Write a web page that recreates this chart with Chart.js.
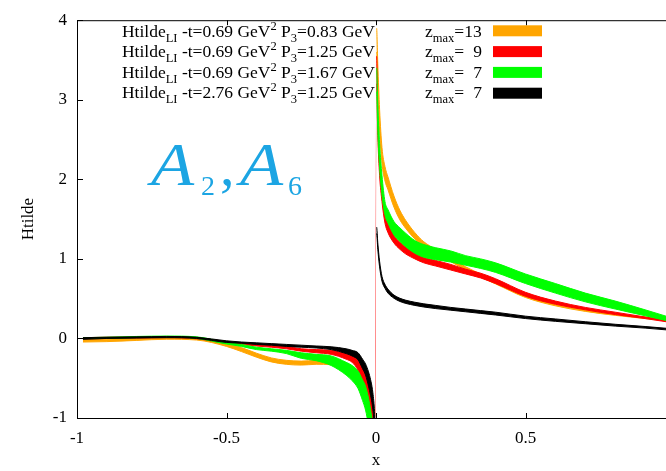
<!DOCTYPE html>
<html>
<head>
<meta charset="utf-8">
<script src="https://cdn.jsdelivr.net/npm/chart.js@4.4.1/dist/chart.umd.min.js"></script>
<style>
  html, body { margin: 0; padding: 0; background: #fff; overflow: hidden; }
  canvas { display: block; }
</style>
</head>
<body>
<canvas id="htildeChart" width="700" height="471"></canvas>
<script>
// x grid shared by every band (denser close to x = 0)
const xs = [-0.98, -0.9, -0.8, -0.7, -0.6, -0.5, -0.45, -0.4, -0.35, -0.3, -0.25, -0.2, -0.15, -0.1, -0.08, -0.06, -0.045, -0.035, -0.025, -0.018, -0.012, -0.006, -0.002,
            0.002, 0.006, 0.012, 0.02, 0.03, 0.04, 0.06, 0.08, 0.1, 0.13, 0.16, 0.2, 0.25, 0.3, 0.35, 0.4, 0.5, 0.6, 0.7, 0.8, 0.9, 0.97];

// lower / upper edge of each band
const orangeLow = [-0.045, -0.04, -0.025, -0.01, -0.02, -0.1, -0.165, -0.235, -0.295, -0.325, -0.335, -0.325, -0.33, -0.38, -0.43, -0.51, -0.62, -0.73, -0.88, -1.02, -1.2, -1.5, -1.9,
                   3.6, 3.15, 2.62, 2.2, 1.98, 1.87, 1.65, 1.49, 1.38, 1.25, 1.145, 1.06, 0.965, 0.86, 0.77, 0.685, 0.515, 0.41, 0.34, 0.29, 0.25, 0.22];
const orangeHigh = [-0.015, -0.01, 0.005, 0.02, 0.01, -0.06, -0.115, -0.185, -0.245, -0.275, -0.285, -0.275, -0.27, -0.32, -0.35, -0.41, -0.5, -0.59, -0.72, -0.84, -1.0, -1.3, -1.7,
                    3.9, 3.45, 2.88, 2.4, 2.16, 2.03, 1.79, 1.61, 1.48, 1.33, 1.215, 1.12, 1.015, 0.9, 0.81, 0.715, 0.545, 0.43, 0.36, 0.31, 0.27, 0.24];

const redLow = [-0.01, 0.0, 0.005, 0.01, -0.005, -0.06, -0.075, -0.095, -0.11, -0.13, -0.16, -0.18, -0.2, -0.26, -0.3, -0.4, -0.55, -0.66, -0.8, -0.95, -1.15, -1.5, -2.0,
                3.2, 2.55, 2.05, 1.72, 1.45, 1.33, 1.2, 1.12, 1.06, 1.0, 0.95, 0.91, 0.86, 0.81, 0.76, 0.69, 0.53, 0.43, 0.36, 0.3, 0.25, 0.21];
const redHigh = [0.01, 0.015, 0.02, 0.025, 0.01, -0.04, -0.055, -0.07, -0.085, -0.1, -0.13, -0.14, -0.15, -0.19, -0.21, -0.27, -0.37, -0.44, -0.55, -0.66, -0.8, -1.0, -1.3,
                 3.55, 2.8, 2.3, 1.92, 1.62, 1.48, 1.3, 1.21, 1.15, 1.08, 1.02, 0.98, 0.93, 0.87, 0.82, 0.75, 0.58, 0.47, 0.39, 0.33, 0.27, 0.23];

const greenLow = [-0.005, 0.0, 0.01, 0.015, 0.0, -0.07, -0.1, -0.14, -0.16, -0.19, -0.25, -0.28, -0.34, -0.46, -0.53, -0.63, -0.78, -0.9, -1.1, -1.3, -1.5, -1.9, -2.2,
                  3.1, 2.6, 2.15, 1.8, 1.55, 1.45, 1.3, 1.22, 1.15, 1.07, 1.02, 0.99, 0.96, 0.92, 0.88, 0.83, 0.69, 0.57, 0.46, 0.37, 0.285, 0.225];
const greenHigh = [0.01, 0.015, 0.025, 0.03, 0.02, -0.05, -0.075, -0.11, -0.13, -0.15, -0.18, -0.2, -0.22, -0.3, -0.34, -0.41, -0.52, -0.6, -0.75, -0.9, -1.05, -1.4, -1.7,
                   3.4, 2.95, 2.45, 2.05, 1.72, 1.62, 1.47, 1.39, 1.32, 1.23, 1.18, 1.14, 1.1, 1.04, 1.0, 0.95, 0.81, 0.69, 0.57, 0.47, 0.36, 0.28];

const blackLow = [-0.01, 0.0, 0.005, 0.01, 0.0, -0.05, -0.06, -0.075, -0.085, -0.1, -0.11, -0.12, -0.14, -0.19, -0.22, -0.27, -0.38, -0.46, -0.6, -0.72, -0.85, -1.1, -1.5,
                  1.32, 1.12, 0.9, 0.72, 0.63, 0.57, 0.505, 0.465, 0.44, 0.415, 0.395, 0.375, 0.355, 0.335, 0.315, 0.295, 0.25, 0.215, 0.185, 0.155, 0.13, 0.108];
const blackHigh = [0.01, 0.015, 0.02, 0.025, 0.015, -0.03, -0.045, -0.055, -0.065, -0.075, -0.085, -0.095, -0.105, -0.13, -0.15, -0.18, -0.26, -0.32, -0.42, -0.52, -0.64, -0.85, -1.1,
                   1.40, 1.2, 0.97, 0.78, 0.68, 0.62, 0.545, 0.505, 0.48, 0.455, 0.435, 0.415, 0.39, 0.37, 0.35, 0.33, 0.28, 0.245, 0.21, 0.178, 0.15, 0.128];

const bandColors = ['#ffa500', '#ff0000', '#00ff00', '#000000'];
const tValues = ['0.69', '0.69', '0.69', '2.76'];
const pValues = ['0.83', '1.25', '1.67', '1.25'];
const zmaxValues = ['13', '9', '7', '7'];
const xTicks = [-1, -0.5, 0, 0.5, 1];
const yTicks = [-1, 0, 1, 2, 3, 4];

const SERIF = '"Liberation Serif", "DejaVu Serif", serif';
const CLEAR = 'rgba(0,0,0,0)';

const bands = [
    { low: orangeLow, high: orangeHigh },
    { low: redLow, high: redHigh },
    { low: greenLow, high: greenHigh },
    { low: blackLow, high: blackHigh }
];

// segment that jumps across x = 0
function crossesZero(ctx) {
    return ctx.p0.parsed.x < 0 && ctx.p1.parsed.x > 0;
}

// each band = lower edge + upper edge filled down to it; later bands sit on top
const datasets = [];
bands.forEach(function(b, i) {
    const order = bands.length - i;
    const color = bandColors[i];
    const isBlack = i === bands.length - 1;
    datasets.push({
        data: xs.map((x, k) => ({ x: x, y: b.low[k] })),
        borderColor: color,
        borderWidth: 1,
        pointRadius: 0,
        fill: false,
        order: order,
        segment: { borderColor: c => crossesZero(c) ? CLEAR : undefined }
    });
    datasets.push({
        data: xs.map((x, k) => ({ x: x, y: b.high[k] })),
        borderColor: color,
        backgroundColor: color,
        borderWidth: 1,
        pointRadius: 0,
        fill: '-1',
        order: order,
        segment: {
            borderColor: c => crossesZero(c) ? CLEAR : undefined,
            backgroundColor: c => (isBlack && crossesZero(c)) ? CLEAR : undefined
        }
    });
});

// draw text made of pieces: shift 0 = normal, 1 = subscript, -1 = superscript
function pieceFont(shift) {
    return (shift === 0 ? 17.5 : 12.5) + 'px ' + SERIF;
}
function richWidth(ctx, parts) {
    let w = 0;
    parts.forEach(function(p) {
        ctx.font = pieceFont(p[1]);
        w += ctx.measureText(p[0]).width;
    });
    return w;
}
function drawRich(ctx, parts, x, y) {
    let cx = x;
    parts.forEach(function(p) {
        ctx.font = pieceFont(p[1]);
        const dy = p[1] === 1 ? 5 : (p[1] === -1 ? -7 : 0);
        ctx.fillText(p[0], cx, y + dy);
        cx += ctx.measureText(p[0]).width;
    });
    return cx;
}

function stretchedA(ctx, x, y) {
    ctx.save();
    ctx.translate(x, y);
    ctx.scale(1.14, 1);
    ctx.fillText('A', 0, 0);
    ctx.restore();
}

const decorations = {
    id: 'decorations',
    afterDatasetsDraw(chart) {
        const ctx = chart.ctx;
        ctx.save();
        ctx.fillStyle = '#000';
        ctx.textAlign = 'left';
        ctx.textBaseline = 'alphabetic';

        // key
        for (let i = 0; i < 4; i++) {
            const base = 36.7 + 20.5 * i;
            const parts = [['Htilde', 0], ['LI', 1], [' -t=' + tValues[i] + ' GeV', 0], ['2', -1],
                           [' P', 0], ['3', 1], ['=' + pValues[i] + ' GeV', 0]];
            drawRich(ctx, parts, 375 - richWidth(ctx, parts), base);

            const eqEnd = drawRich(ctx, [['z', 0], ['max', 1], ['=', 0]], 425, base);
            ctx.font = pieceFont(0);
            if (zmaxValues[i].length > 1) {
                ctx.fillText(zmaxValues[i], eqEnd, base);
            } else {
                ctx.textAlign = 'right';
                ctx.fillText(zmaxValues[i], 482, base);
                ctx.textAlign = 'left';
            }

            ctx.fillStyle = bandColors[i];
            ctx.fillRect(493, 25.3 + 20.8 * i, 49, 11);
            ctx.fillStyle = '#000';
        }

        // A_2, A_6 label
        ctx.fillStyle = '#1ca5e3';
        ctx.font = 'italic 62px ' + SERIF;
        stretchedA(ctx, 151, 185);
        stretchedA(ctx, 240, 185);
        ctx.font = '58px ' + SERIF;
        ctx.fillText(',', 220, 185);
        ctx.font = '28px ' + SERIF;
        ctx.fillText('2', 201, 195);
        ctx.fillText('6', 288, 195);
        ctx.restore();
    },
    afterDraw(chart) {
        const ctx = chart.ctx;
        const area = chart.chartArea;
        const xScale = chart.scales.x;
        const yScale = chart.scales.y;
        ctx.save();
        ctx.strokeStyle = '#000';
        ctx.lineWidth = 1;
        ctx.strokeRect(area.left + 0.5, area.top + 0.5, area.right - area.left, area.bottom - area.top);
        ctx.beginPath();
        xTicks.forEach(function(v) {
            const px = Math.round(xScale.getPixelForValue(v)) + 0.5;
            ctx.moveTo(px, area.bottom);
            ctx.lineTo(px, area.bottom - 5);
            ctx.moveTo(px, area.top);
            ctx.lineTo(px, area.top + 5);
        });
        yTicks.forEach(function(v) {
            const py = Math.round(yScale.getPixelForValue(v)) + 0.5;
            ctx.moveTo(area.left, py);
            ctx.lineTo(area.left + 6, py);
            ctx.moveTo(area.right, py);
            ctx.lineTo(area.right - 6, py);
        });
        ctx.stroke();
        ctx.restore();
    }
};

const htildeCtx = document.getElementById('htildeChart');
const htildeChart = new Chart(htildeCtx, {
    type: 'line',
    data: { datasets: datasets },
    options: {
        responsive: false,
        animation: false,
        events: [],
        cubicInterpolationMode: 'monotone',
        layout: { padding: { top: 12, right: 25, left: 0, bottom: 0 } },
        plugins: {
            legend: { display: false },
            tooltip: { enabled: false }
        },
        scales: {
            x: {
                type: 'linear',
                min: -1,
                max: 1,
                afterBuildTicks: s => { s.ticks = xTicks.map(v => ({ value: v })); },
                afterFit: s => { s.height = 53; },
                grid: { display: false, drawTicks: false },
                border: { display: false },
                ticks: {
                    padding: 10,
                    color: '#000',
                    font: { family: SERIF, size: 17 },
                    callback: v => String(v)
                },
                title: {
                    display: true,
                    text: 'x',
                    color: '#000',
                    font: { family: SERIF, size: 17 },
                    padding: { top: 0, bottom: 0 }
                }
            },
            y: {
                type: 'linear',
                min: -1,
                max: 4,
                afterBuildTicks: s => { s.ticks = yTicks.map(v => ({ value: v })); },
                afterFit: s => { s.width = 77; },
                grid: { display: false, drawTicks: false },
                border: { display: false },
                ticks: {
                    padding: 10,
                    color: '#000',
                    font: { family: SERIF, size: 17 },
                    callback: v => String(v)
                },
                title: {
                    display: true,
                    text: 'Htilde',
                    color: '#000',
                    font: { family: SERIF, size: 17 },
                    padding: { top: 18, bottom: 0 }
                }
            }
        }
    },
    plugins: [decorations]
});
</script>
</body>
</html>
